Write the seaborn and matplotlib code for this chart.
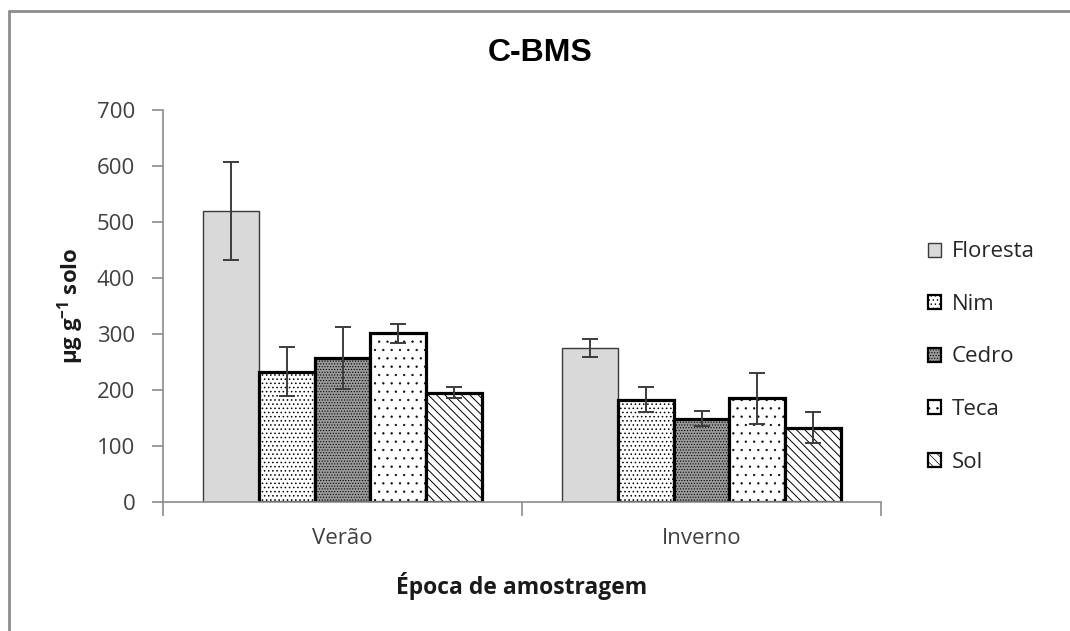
import matplotlib
matplotlib.use("Agg")
import matplotlib.pyplot as plt
from matplotlib.lines import Line2D
from matplotlib.patches import Patch
import seaborn as sns
import pandas as pd
import numpy as np

# Soil microbial biomass carbon by sampling season and land cover
seasons = ["Verão", "Inverno"]
covers = ["Floresta", "Nim", "Cedro", "Teca", "Sol"]
means_verao = [520, 233, 257, 301, 195]
means_inverno = [275, 183, 149, 185, 133]
err_verao = [88, 44, 55, 17, 10]
err_inverno = [16, 22, 13, 46, 28]
yticks = [0, 100, 200, 300, 400, 500, 600, 700]

df = pd.DataFrame({
    "season": np.repeat(seasons, len(covers)),
    "cover": covers * len(seasons),
    "value": means_verao + means_inverno,
    "err": err_verao + err_inverno,
})

sns.set_theme(style="white")
plt.rcParams["font.family"] = ["Open Sans", "DejaVu Sans"]
plt.rcParams["mathtext.fontset"] = "custom"
plt.rcParams["mathtext.bf"] = "Open Sans:bold"
plt.rcParams["mathtext.rm"] = "Open Sans"
plt.rcParams["hatch.linewidth"] = 0.5

fig = plt.figure(figsize=(10.7, 6.31), dpi=100)
ax = fig.add_axes([163 / 1070, 1 - 502 / 631, 718 / 1070, 392 / 631])

sns.barplot(data=df, x="season", y="value", hue="cover", order=seasons,
            hue_order=covers, errorbar=None, width=0.775, ax=ax,
            legend=False)

styles = {
    "Floresta": dict(fc="#d9d9d9", ec="#3a3a3a", lw=1.0, hatch=None, hlw=0.5),
    "Nim": dict(fc="white", ec="black", lw=2.3, hatch="....", hlw=0.6),
    "Cedro": dict(fc="#9a9a9a", ec="black", lw=2.3, hatch="......", hlw=0.5),
    "Teca": dict(fc="white", ec="black", lw=2.3, hatch="..", hlw=0.4),
    "Sol": dict(fc="white", ec="black", lw=2.3, hatch="\\\\\\\\", hlw=0.7),
}

handles = []
for cover, cont in zip(covers, ax.containers):
    st = styles[cover]
    sub = df[df["cover"] == cover].set_index("season").loc[seasons]
    xs = []
    for bar in cont:
        bar.set_facecolor(st["fc"])
        bar.set_edgecolor(st["ec"])
        bar.set_linewidth(st["lw"])
        if st["hatch"]:
            bar.set_hatch(st["hatch"])
            if hasattr(bar, "set_hatch_linewidth"):
                bar.set_hatch_linewidth(st["hlw"])
        xs.append(bar.get_x() + bar.get_width() / 2)
    ax.errorbar(xs, sub["value"].values, yerr=sub["err"].values, fmt="none",
                ecolor="#3c3c3c", elinewidth=1.4, capsize=5.5, capthick=1.4,
                zorder=5)
    h = Patch(facecolor=st["fc"], edgecolor=st["ec"],
              linewidth=min(st["lw"], 1.6), hatch=st["hatch"], label=cover)
    if st["hatch"] and hasattr(h, "set_hatch_linewidth"):
        h.set_hatch_linewidth(st["hlw"])
    handles.append(h)

ax.set_ylim(0, 700)
ax.set_yticks(yticks)
ax.set_xlim(-0.5, 1.5)
ax.set_xticks([-0.5, 0.5, 1.5], minor=False)
ax.set_xticklabels(["", "", ""])
ax.set_xticks([0, 1], minor=True)
ax.set_xticklabels(seasons, minor=True)
ax.tick_params(axis="x", which="major", length=10, width=1.2, color="#8c8c8c",
               direction="out", bottom=True)
ax.tick_params(axis="x", which="minor", length=0, labelsize=16,
               labelcolor="#404040", pad=19)
ax.tick_params(axis="y", length=8, width=1.2, color="#8c8c8c", direction="out",
               left=True, labelsize=16, labelcolor="#404040", pad=12)

for side in ["top", "right"]:
    ax.spines[side].set_visible(False)
for side in ["left", "bottom"]:
    ax.spines[side].set_color("#8c8c8c")
    ax.spines[side].set_linewidth(1.2)

ax.set_xlabel("Época de amostragem", fontsize=16.5, fontweight="bold",
              color="#1a1a1a", labelpad=16)
ax.set_ylabel(r"µg g$^{\mathbf{-1}}$ solo", fontsize=16, fontweight="bold",
              color="#1a1a1a", labelpad=8)

fig.text(540 / 1070, 1 - 53 / 631, "C-BMS", ha="center", va="center",
         fontsize=23, fontweight="bold", family=["Liberation Sans"],
         color="black")

ax.legend(handles=handles, loc="center left",
          bbox_to_anchor=(917 / 1070, 1 - 357 / 631),
          bbox_transform=fig.transFigure, frameon=False, fontsize=16,
          handlelength=0.6, handleheight=0.6, handletextpad=0.45,
          labelspacing=1.42, borderpad=0)

# chart frame on the left and top edges
fig.add_artist(Line2D([9 / 1070, 9 / 1070], [0, 1 - 11 / 631],
                      transform=fig.transFigure, color="#8c8c8c", lw=2))
fig.add_artist(Line2D([9 / 1070, 1], [1 - 11 / 631, 1 - 11 / 631],
                      transform=fig.transFigure, color="#8c8c8c", lw=2))

fig.savefig("out.png", dpi=100, facecolor="white")
